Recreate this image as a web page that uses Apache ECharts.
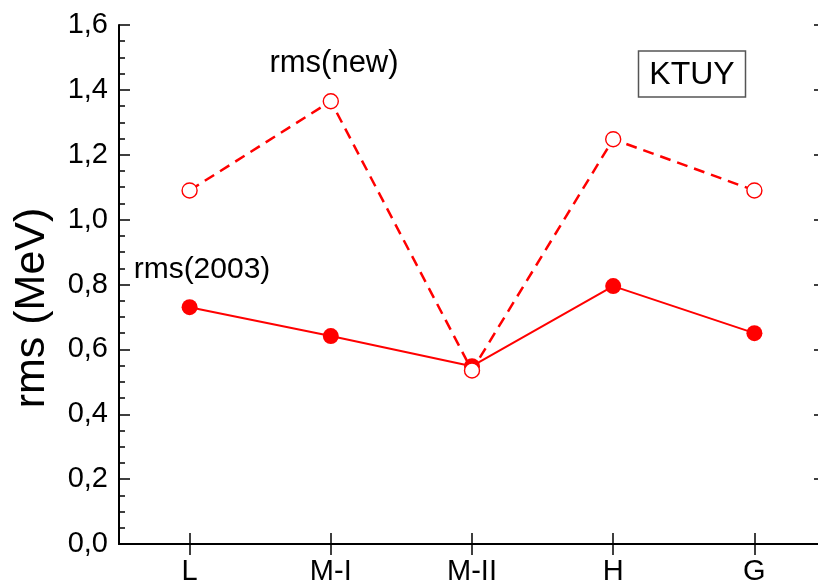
<!DOCTYPE html>
<html>
<head>
<meta charset="utf-8">
<script src="https://cdn.jsdelivr.net/npm/echarts@6/dist/echarts.min.js"></script>
<style>
  html, body { margin: 0; padding: 0; background: #fff; }
  #chart { width: 818px; height: 587px; }
</style>
</head>
<body>
<div id="chart"></div>
<script>
// Mass-model sets along the x axis
const categories = ['L', 'M-I', 'M-II', 'H', 'G'];
// rms deviations (MeV)
const rms2003 = [0.73, 0.641, 0.548, 0.795, 0.65];
const rmsNew = [1.09, 1.365, 0.535, 1.248, 1.09];
// y axis range and step
const yMin = 0, yMax = 1.6, yStep = 0.2;

const FONT = '"Liberation Sans", Arial, Helvetica, sans-serif';
const RED = '#ff0000';

const chart = echarts.init(document.getElementById('chart'), null, { renderer: 'canvas' });

const axisLine = { show: true, lineStyle: { color: '#000', width: 2 } };
const tick = { show: true, inside: true, length: 11, lineStyle: { color: '#000', width: 1.5 } };
const minor = { show: true, splitNumber: 4, length: 6, lineStyle: { color: '#000', width: 1.5 } };

chart.setOption({
  animation: false,
  backgroundColor: '#fff',
  // the frame runs a little past the right edge of the canvas
  grid: { left: 119, width: 706, top: 25, bottom: 43, containLabel: false, outerBoundsMode: 'none' },
  xAxis: [
    {
      type: 'category', data: categories, position: 'bottom', boundaryGap: true,
      axisLine: axisLine,
      axisTick: Object.assign({ alignWithLabel: true }, tick),
      axisLabel: { margin: 13, color: '#000', fontFamily: FONT, fontSize: 29 },
      splitLine: { show: false }
    },
    {
      type: 'category', data: categories, position: 'top', boundaryGap: true,
      axisLine: axisLine,
      axisTick: Object.assign({ alignWithLabel: true }, tick),
      axisLabel: { show: false },
      splitLine: { show: false }
    }
  ],
  yAxis: [
    {
      type: 'value', min: yMin, max: yMax, interval: yStep, position: 'left',
      axisLine: axisLine, axisTick: tick, minorTick: minor,
      axisLabel: {
        margin: 11, color: '#000', fontFamily: FONT, fontSize: 29,
        formatter: v => v.toFixed(1).replace('.', ',')
      },
      splitLine: { show: false }
    },
    {
      type: 'value', min: yMin, max: yMax, interval: yStep, position: 'right',
      axisLine: axisLine, axisTick: tick, minorTick: minor,
      axisLabel: { show: false },
      splitLine: { show: false }
    }
  ],
  series: [
    {
      name: 'rms(2003)', type: 'line', data: rms2003,
      xAxisIndex: 0, yAxisIndex: 0,
      symbol: 'circle', symbolSize: 16,
      lineStyle: { color: RED, width: 2 },
      itemStyle: { color: RED, borderColor: RED, borderWidth: 0 },
      z: 3
    },
    {
      name: 'rms(new)', type: 'line', data: rmsNew,
      xAxisIndex: 0, yAxisIndex: 0,
      symbol: 'circle', symbolSize: 15,
      lineStyle: { color: RED, width: 2.5, type: [11, 7] },
      itemStyle: { color: '#fff', borderColor: RED, borderWidth: 1.4 },
      z: 4
    }
  ],
  graphic: [
    {
      type: 'text', x: 32, y: 308, rotation: Math.PI / 2,
      style: { text: 'rms (MeV)', font: '43px ' + FONT, fill: '#000', align: 'center', verticalAlign: 'middle' }
    },
    {
      type: 'text', x: 334, y: 63,
      style: { text: 'rms(new)', font: '31px ' + FONT, fill: '#000', align: 'center', verticalAlign: 'middle' }
    },
    {
      type: 'text', x: 202, y: 270,
      style: { text: 'rms(2003)', font: '30px ' + FONT, fill: '#000', align: 'center', verticalAlign: 'middle' }
    },
    {
      type: 'rect', shape: { x: 638.5, y: 51, width: 107, height: 46 },
      style: { fill: '#fff', stroke: '#555', lineWidth: 1.5 }
    },
    {
      type: 'text', x: 692, y: 75,
      style: { text: 'KTUY', font: '32px ' + FONT, fill: '#000', align: 'center', verticalAlign: 'middle' }
    }
  ]
});
</script>
</body>
</html>
